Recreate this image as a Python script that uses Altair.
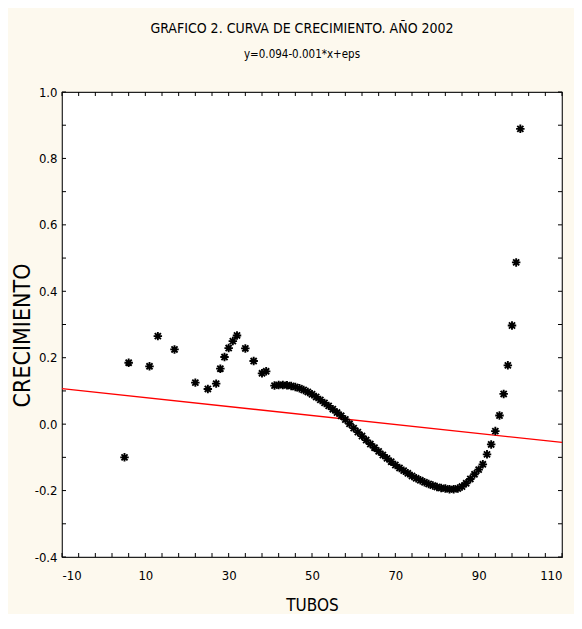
import altair as alt
import pandas as pd

tubos = [5, 6, 11, 13, 17, 22, 25, 27, 28, 29, 30, 31, 32, 34, 36, 38, 39,
         41, 42, 43, 44, 45, 46, 47, 48, 49, 50, 51, 52, 53, 54, 55, 56, 57, 58, 59,
         60, 61, 62, 63, 64, 65, 66, 67, 68, 69, 70, 71, 72, 73, 74, 75, 76, 77, 78, 79,
         80, 81, 82, 83, 84, 85, 86, 87, 88, 89, 90, 91, 92, 93, 94, 95, 96, 97, 98, 99, 100]
crecimiento = [-0.100, 0.185, 0.174, 0.265, 0.225, 0.125, 0.106, 0.122, 0.167, 0.202, 0.229, 0.250, 0.267,
               0.228, 0.190, 0.153, 0.159,
               0.116, 0.118, 0.118, 0.117, 0.115, 0.112, 0.108, 0.103, 0.097, 0.090, 0.082, 0.073,
               0.064, 0.055, 0.045, 0.035, 0.025, 0.014, 0.001,
               -0.012, -0.024, -0.036, -0.048, -0.060, -0.071, -0.082, -0.093, -0.103, -0.113,
               -0.123, -0.132, -0.140, -0.148, -0.156, -0.163, -0.169, -0.175, -0.180, -0.185,
               -0.189, -0.192, -0.194, -0.196, -0.196, -0.194, -0.188, -0.178, -0.165, -0.151,
               -0.137, -0.121, -0.091, -0.061, -0.021, 0.026, 0.091, 0.177, 0.297, 0.487, 0.889]

# Fitted line y = 0.094 - 0.001*x (endpoints as drawn)
fit_x = [-10, 110]
fit_y = [0.107, -0.055]

# Axis ticks and labels
x_label_values = [-10, 10, 30, 50, 70, 90, 110]
y_label_values = [-0.4, -0.2, 0.0, 0.2, 0.4, 0.6, 0.8, 1.0]
x_tick_values = list(range(-10, 111, 4))
y_tick_values = [-0.4, -0.3, -0.2, -0.1, 0.0, 0.1, 0.2, 0.3, 0.4, 0.5, 0.6, 0.7, 0.8, 0.9, 1.0]

W, H = 500, 465
FONT = "DejaVu Sans Condensed, Liberation Sans, sans-serif"

pts = pd.DataFrame({"TUBOS": tubos, "CRECIMIENTO": crecimiento})
fit = pd.DataFrame({"x": fit_x, "y": fit_y})
xt = pd.DataFrame({"v": x_tick_values})
yt = pd.DataFrame({"v": y_tick_values})

xscale = alt.Scale(domain=[-10, 110], nice=False, zero=False)
yscale = alt.Scale(domain=[-0.4, 1.0], nice=False, zero=False)

xaxis = alt.Axis(values=x_label_values, ticks=False, tickSize=0, domain=False, grid=False,
                 labelFont=FONT, labelFontSize=13, labelColor="black", labelPadding=12,
                 labelExpr="replace(datum.label, '\u2212', '-')",
                 title="TUBOS", titleFont=FONT, titleFontSize=17, titleFontWeight="normal",
                 titleColor="black", titleY=48, titleBaseline="middle")
yaxis = alt.Axis(values=y_label_values, ticks=False, tickSize=0, domain=False, grid=False,
                 labelFont=FONT, labelFontSize=13, labelColor="black", labelPadding=5,
                 labelExpr="replace(format(datum.value, '.1f'), '\u2212', '-')",
                 title="CRECIMIENTO", titleFont=FONT, titleFontSize=23, titleFontWeight="normal",
                 titleColor="black", titleX=-40, titleY=243, titleBaseline="middle", titleAngle=-90)

star = "M0,-1V1M-1,0H1M-0.72,-0.72L0.72,0.72M-0.72,0.72L0.72,-0.72"

points = alt.Chart(pts).mark_point(shape=star, filled=False, stroke="black", strokeWidth=1.9,
                                   size=72, opacity=1).encode(
    x=alt.X("TUBOS:Q", scale=xscale, axis=xaxis),
    y=alt.Y("CRECIMIENTO:Q", scale=yscale, axis=yaxis),
)

line = alt.Chart(fit).mark_line(color="#ff0000", strokeWidth=1.3).encode(
    x=alt.X("x:Q", scale=xscale),
    y=alt.Y("y:Q", scale=yscale),
)

tick_len = 4
bottom_ticks = alt.Chart(xt).mark_rule(color="black", strokeWidth=1).encode(
    x=alt.X("v:Q", scale=xscale), y=alt.value(H), y2=alt.value(H - tick_len))
top_ticks = alt.Chart(xt).mark_rule(color="black", strokeWidth=1).encode(
    x=alt.X("v:Q", scale=xscale), y=alt.value(0), y2=alt.value(tick_len))
left_ticks = alt.Chart(yt).mark_rule(color="black", strokeWidth=1).encode(
    y=alt.Y("v:Q", scale=yscale), x=alt.value(0), x2=alt.value(tick_len))
right_ticks = alt.Chart(yt).mark_rule(color="black", strokeWidth=1).encode(
    y=alt.Y("v:Q", scale=yscale), x=alt.value(W), x2=alt.value(W - tick_len))

chart = alt.layer(line, bottom_ticks, top_ticks, left_ticks, right_ticks, points).properties(
    width=W, height=H,
    title=alt.TitleParams(
        text="GRAFICO 2. CURVA DE CRECIMIENTO. AÑO 2002",
        subtitle="y=0.094-0.001*x+eps",
        font=FONT, fontSize=14, fontWeight="normal", color="black",
        subtitleFont=FONT, subtitleFontSize=11.5, subtitleColor="black", subtitlePadding=13,
        anchor="middle", frame="group", dx=-10, offset=26,
    ),
    autosize=alt.AutoSizeParams(type="none"),
    padding={"left": 54, "top": 84, "right": 12, "bottom": 57},
    background="#fdf9ee",
).configure_view(
    fill="white", stroke="#222222", strokeWidth=1.2
)

chart.save("out.html", embed_options={"renderer": "svg", "actions": False})
